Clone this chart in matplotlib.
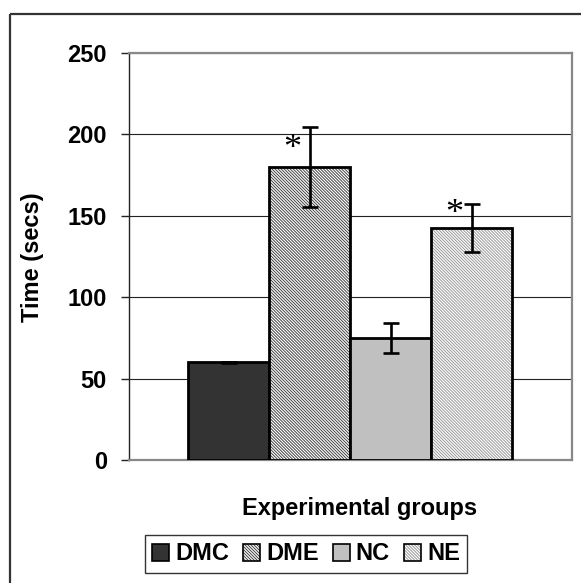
import matplotlib
matplotlib.use("Agg")
import matplotlib.pyplot as plt
from matplotlib.patches import Rectangle, Patch

# ---- data ----
groups = ["DMC", "DME", "NC", "NE"]
means = [60, 180, 75, 142.5]
errors = [0.5, 24.5, 9, 15]
star_groups = ["DME", "NE"]
star_heights = [191, 151]
yticks = [0, 50, 100, 150, 200, 250]
xlabel = "Experimental groups"
ylabel = "Time (secs)"

# ---- styles ----
faces = ["#333333", "white", "#c0c0c0", "white"]
hatches = [None, "\\" * 11, None, "\\" * 11]
hatch_cols = [None, "#444444", None, "#9a9a9a"]

W, H = 581, 583
fig = plt.figure(figsize=(W / 100, H / 100), dpi=100)
plt.rcParams["font.family"] = ["Liberation Sans", "DejaVu Sans"]
plt.rcParams["hatch.linewidth"] = 0.7

ax = fig.add_axes([129 / W, 1 - 460 / H, 443 / W, 407 / H])
xs = list(range(len(groups)))
for i, (x, m, e) in enumerate(zip(xs, means, errors)):
    b = ax.bar(x, m, width=1.0, color=faces[i], edgecolor="black",
               linewidth=2.0, zorder=3)
    if hatches[i]:
        b[0].set_hatch(hatches[i])
        b[0]._hatch_color = matplotlib.colors.to_rgba(hatch_cols[i])
    ax.errorbar(x, m, yerr=e, fmt="none", ecolor="black", elinewidth=1.9,
                capsize=5.8, capthick=1.9, zorder=4)

for g, yv in zip(star_groups, star_heights):
    i = groups.index(g)
    ax.text(xs[i] - 0.21, yv, "*", fontsize=26, family=["Liberation Serif"],
            ha="center", va="center", zorder=5)

ax.set_xlim(-0.5 - 59 / 81, len(groups) - 0.5 + 60 / 81)
ax.set_ylim(0, 250)
ax.set_yticks(yticks)
ax.set_yticklabels([str(t) for t in yticks], fontsize=17, fontweight="bold")
ax.set_xticks([])
ax.yaxis.grid(True, color="#222222", linewidth=0.8, zorder=0)
ax.set_axisbelow(True)
ax.tick_params(axis="y", length=6, width=1, color="#222222", pad=10)
for s in ["top", "right", "bottom"]:
    ax.spines[s].set_color("#888888")
    ax.spines[s].set_linewidth(1.6)
ax.spines["left"].set_color("#222222")
ax.spines["left"].set_linewidth(1.0)

fig.text(360 / W, 1 - 508 / H, xlabel, fontsize=17, fontweight="bold",
         ha="center", va="center")
fig.text(33 / W, 1 - 257 / H, ylabel, fontsize=17, fontweight="bold",
         rotation=90, ha="center", va="center")

handles = []
for i, g in enumerate(groups):
    p = Patch(facecolor=faces[i], edgecolor="black", linewidth=1.2,
              hatch=hatches[i] if hatches[i] else None, label=g)
    handles.append(p)
leg = fig.legend(handles=handles, loc="center", ncol=4,
                 bbox_to_anchor=(306 / W, 1 - 554 / H),
                 prop={"size": 17, "weight": "bold"},
                 handlelength=0.72, handleheight=0.72, handletextpad=0.25,
                 columnspacing=0.6, borderpad=0.3, frameon=True,
                 fancybox=False, borderaxespad=0)
leg.get_frame().set_edgecolor("black")
leg.get_frame().set_linewidth(1.0)
for h, hc in zip(leg.get_patches(), hatch_cols):
    if hc:
        h._hatch_color = matplotlib.colors.to_rgba(hc)

frame = Rectangle((10 / W, 1 - 14 / H), 1.0, -1.0, transform=fig.transFigure,
                  fill=False, edgecolor="#333333", linewidth=1.6, clip_on=False)
fig.patches.append(frame)

fig.savefig("out.png", dpi=100, facecolor="white")
